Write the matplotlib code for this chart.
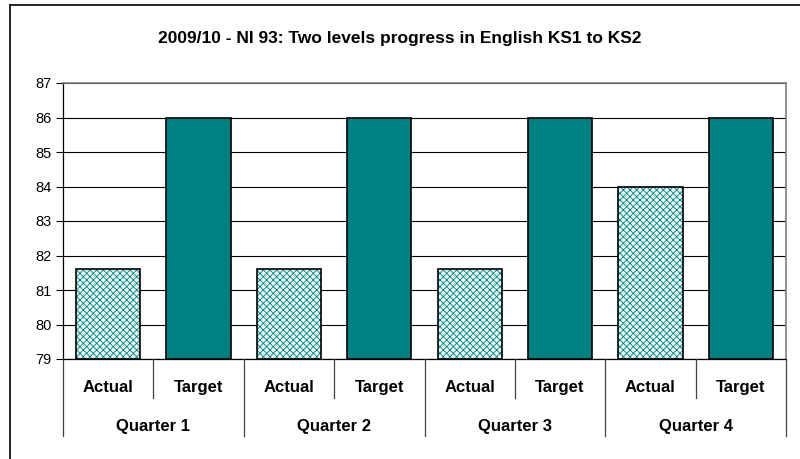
import matplotlib
matplotlib.use("Agg")
import matplotlib.pyplot as plt
import matplotlib.transforms as mtransforms
from matplotlib.lines import Line2D

plt.rcParams['font.family'] = ['Liberation Sans', 'DejaVu Sans']
plt.rcParams['hatch.linewidth'] = 0.6

title = "2009/10 - NI 93: Two levels progress in English KS1 to KS2"
quarters = ["Quarter 1", "Quarter 2", "Quarter 3", "Quarter 4"]
series_names = ["Actual", "Target"]
actual = [81.6, 81.6, 81.6, 84.0]
target = [86, 86, 86, 86]
yticks = [79, 80, 81, 82, 83, 84, 85, 86, 87]

W, H = 800, 459
fig = plt.figure(figsize=(W / 100, H / 100), dpi=100)
ax = fig.add_axes([63 / W, 1 - 359 / H, (786 - 63) / W, (359 - 83) / H])

teal = "#008080"
bw = 0.71
xa = [2 * i for i in range(len(quarters))]
xt = [2 * i + 1 for i in range(len(quarters))]

# Actual: hatched pattern
ax.bar(xa, [v - 79 for v in actual], bottom=79, width=bw, facecolor="#e8f6f6",
       edgecolor=teal, hatch="xxxxx", linewidth=0, zorder=3)
ax.bar(xa, [v - 79 for v in actual], bottom=79, width=bw, facecolor="none",
       edgecolor="black", linewidth=1.2, zorder=4)
# Target: solid teal
ax.bar(xt, [v - 79 for v in target], bottom=79, width=bw, facecolor=teal,
       edgecolor="black", linewidth=1.2, zorder=3)

ax.set_xlim(-0.5, 7.5)
ax.set_ylim(79, 87)
ax.set_yticks(yticks)
ax.set_yticklabels([str(t) for t in yticks], fontsize=10.5)
ax.yaxis.grid(True, color="black", linewidth=0.8)
ax.set_axisbelow(True)
ax.set_xticks([])
ax.tick_params(axis="y", length=5, width=0.8, color="black", pad=3)

for s in ["top", "right"]:
    ax.spines[s].set_color("#808080")
    ax.spines[s].set_linewidth(1.2)
ax.spines["left"].set_color("black")
ax.spines["left"].set_linewidth(0.9)
ax.spines["bottom"].set_color("black")
ax.spines["bottom"].set_linewidth(0.9)

# category labels
tr = mtransforms.blended_transform_factory(ax.transData, fig.transFigure)
for i, q in enumerate(quarters):
    ax.text(xa[i], 1 - 392 / H, series_names[0], transform=tr, ha="center",
            va="baseline", fontsize=12, fontweight="bold")
    ax.text(xt[i], 1 - 392 / H, series_names[1], transform=tr, ha="center",
            va="baseline", fontsize=12, fontweight="bold")
    ax.text((xa[i] + xt[i]) / 2, 1 - 431 / H, q, transform=tr, ha="center",
            va="baseline", fontsize=12, fontweight="bold")

# separators
for i in range(len(quarters)):
    x = xa[i] + 0.5
    fig.add_artist(Line2D([x, x], [1 - 359 / H, 1 - 398 / H], transform=tr,
                          color="#404040", linewidth=0.9))
for k in range(len(quarters) + 1):
    x = -0.5 + 2 * k
    fig.add_artist(Line2D([x, x], [1 - 359 / H, 1 - 436 / H], transform=tr,
                          color="#404040", linewidth=0.9))

fig.text(400 / W, 1 - 43 / H, title, ha="center", va="baseline", fontsize=12.5,
         fontweight="bold")

# outer chart border
fig.add_artist(Line2D([10 / W, 1.0], [1 - 5 / H, 1 - 5 / H], transform=fig.transFigure,
                      color="black", linewidth=1.2))
fig.add_artist(Line2D([10 / W, 10 / W], [1 - 5 / H, 0], transform=fig.transFigure,
                      color="black", linewidth=1.2))

fig.savefig("out.png", dpi=100)
